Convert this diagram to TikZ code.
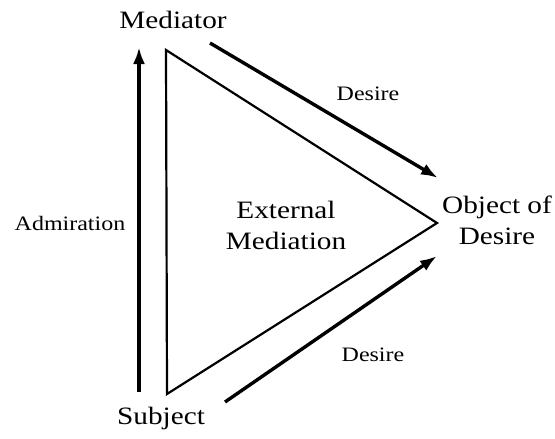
\documentclass[tikz,border=0pt]{standalone}
\usepackage{fontspec}
\setmainfont{Liberation Serif}[FakeStretch=1.17]
\usetikzlibrary{arrows.meta}
\begin{document}
\begin{tikzpicture}[x=1pt,y=-1pt,
  big/.style={font=\fontsize{25}{31}\selectfont, inner sep=0pt, align=center},
  small/.style={font=\fontsize{20.5}{24}\selectfont, inner sep=0pt},
  arr/.style={line width=3.4pt, -{Latex[length=17pt,width=12pt]}},
  tri/.style={line width=2.2pt, line join=miter}]
\useasboundingbox (0,0) rectangle (555,439);
\node[big] (med) at (173,20) {Mediator};
\node[big] (sub) at (161,418) {Subject};
\node[big] (obj) at (497,220) {Object of\\Desire};
\node[big] (ext) at (286,225) {External\\Mediation};
\node[small] (adm) at (70,223) {Admiration};
\node[small] (d1) at (368,94) {Desire};
\node[small] (d2) at (373,355) {Desire};
\coordinate (t1) at (166,50);
\coordinate (t2) at (167,394);
\coordinate (t3) at (437,223);
\draw[tri] (t1) -- (t2) -- (t3) -- cycle;
\coordinate (a1s) at (139,392);
\coordinate (a1e) at (139,47);
\draw[arr] (a1s) -- (a1e);
\coordinate (a2s) at (210,43);
\coordinate (a2e) at (438,178);
\draw[arr] (a2s) -- (a2e);
\coordinate (a3s) at (225,402);
\coordinate (a3e) at (437,256);
\draw[arr] (a3s) -- (a3e);
\end{tikzpicture}
\end{document}
